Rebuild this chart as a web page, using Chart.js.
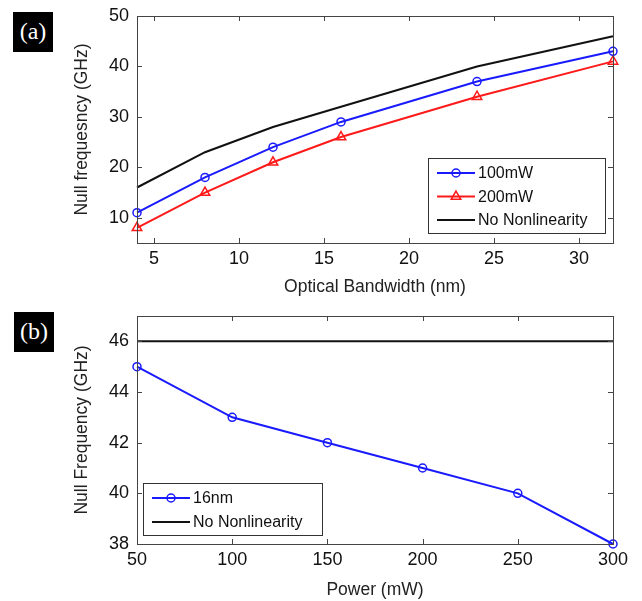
<!DOCTYPE html>
<html>
<head>
<meta charset="utf-8">
<script src="https://cdn.jsdelivr.net/npm/chart.js@4/dist/chart.umd.min.js"></script>
<style>
  html, body { margin: 0; padding: 0; background: #fff; }
  #wrap { position: relative; width: 642px; height: 601px; }
  .panel { position: absolute; left: 0; width: 642px; }
  .tag {
    position: absolute; background: #000; color: #fff;
    font: 24px "Liberation Serif", "DejaVu Serif", serif;
    width: 40px; height: 40px; line-height: 38px; text-align: center;
  }
</style>
</head>
<body>
<div id="wrap">
  <div class="panel" style="top:0;height:300px"><canvas id="chartA" width="642" height="300"></canvas></div>
  <div class="panel" style="top:300px;height:301px"><canvas id="chartB" width="642" height="301"></canvas></div>
  <div class="tag" style="left:13px;top:12px">(a)</div>
  <div class="tag" style="left:14px;top:312px">(b)</div>
</div>
<script>
// panel (a): null frequency vs optical bandwidth
const bandwidthNm = [4, 8, 12, 16, 24, 32];
const null100mW = [11, 18, 24, 29, 37, 43];
const null200mW = [8, 15, 21, 26, 34, 41];
const nullNoNonlinA = [16, 23, 28, 32, 40, 46];

// panel (b): null frequency vs power at 16nm
const powerMw = [50, 100, 150, 200, 250, 300];
const null16nm = [45, 43, 42, 41, 40, 38];
const nullNoNonlinB = [46, 46, 46, 46, 46, 46];

const FONT = '"Liberation Sans", Arial, sans-serif';
const BLUE = '#1a1aff';
const RED = '#ff1a1a';
const BLACK = '#111';

function pts(xs, ys) {
  return xs.map((x, i) => ({ x: x, y: ys[i] }));
}

// matlab style box with inward ticks on all four sides
const boxTicks = {
  id: 'boxTicks',
  afterDatasetsDraw(chart) {
    const { ctx, chartArea: a, scales } = chart;
    const len = 5;
    ctx.save();
    ctx.strokeStyle = '#444';
    ctx.lineWidth = 1;
    ctx.beginPath();
    scales.x.ticks.forEach(t => {
      const px = Math.round(scales.x.getPixelForValue(t.value)) + 0.5;
      ctx.moveTo(px, a.bottom); ctx.lineTo(px, a.bottom - len);
      ctx.moveTo(px, a.top); ctx.lineTo(px, a.top + len);
    });
    scales.y.ticks.forEach(t => {
      const py = Math.round(scales.y.getPixelForValue(t.value)) + 0.5;
      ctx.moveTo(a.left, py); ctx.lineTo(a.left + len, py);
      ctx.moveTo(a.right, py); ctx.lineTo(a.right - len, py);
    });
    ctx.stroke();
    ctx.strokeRect(Math.round(a.left) + 0.5, Math.round(a.top) + 0.5,
      Math.round(a.right - a.left), Math.round(a.bottom - a.top));
    ctx.restore();
  }
};

// legend box drawn inside the plot area
const boxLegend = {
  id: 'boxLegend',
  afterDraw(chart, args, opts) {
    const { ctx } = chart;
    const b = opts.box;
    ctx.save();
    ctx.fillStyle = '#fff';
    ctx.fillRect(b.x, b.y, b.w, b.h);
    ctx.strokeStyle = '#333';
    ctx.lineWidth = 1;
    ctx.strokeRect(b.x + 0.5, b.y + 0.5, b.w, b.h);
    ctx.font = '16px ' + FONT;
    ctx.textBaseline = 'middle';
    chart.data.datasets.forEach((ds, i) => {
      const y = b.y + opts.firstRow + i * opts.rowGap;
      const x0 = b.x + opts.lineX0, x1 = b.x + opts.lineX1;
      ctx.strokeStyle = ds.borderColor;
      ctx.lineWidth = ds.borderWidth;
      ctx.beginPath();
      ctx.moveTo(x0, y); ctx.lineTo(x1, y);
      ctx.stroke();
      if (ds.pointRadius > 0) {
        ctx.fillStyle = 'rgba(0,0,0,0)';
        ctx.lineWidth = ds.pointBorderWidth;
        Chart.helpers.drawPoint(ctx, {
          pointStyle: ds.pointStyle, radius: ds.pointRadius,
          borderWidth: ds.pointBorderWidth, rotation: 0
        }, (x0 + x1) / 2, y);
      }
      ctx.fillStyle = '#111';
      ctx.fillText(ds.label, x1 + 3, y + 1);
    });
    ctx.restore();
  }
};

function lineSet(label, data, color, style) {
  let r = 4;
  if (style === false) r = 0;
  if (style === 'triangle') r = 5.5;
  return {
    label: label, data: data, borderColor: color, backgroundColor: 'rgba(0,0,0,0)',
    borderWidth: 2, pointStyle: style || 'circle', pointRadius: r,
    pointBorderWidth: 1.5, pointBorderColor: color, pointBackgroundColor: 'rgba(0,0,0,0)',
    tension: 0, clip: false
  };
}

function makeOptions(cfg) {
  return {
    responsive: false,
    animation: false,
    events: [],
    layout: { padding: { left: 0, top: 16, right: 29, bottom: 0 } },
    plugins: {
      legend: { display: false },
      tooltip: { enabled: false },
      boxLegend: cfg.legend
    },
    scales: {
      x: {
        type: 'linear', min: cfg.xMin, max: cfg.xMax,
        afterFit: s => { s.height = cfg.xHeight; },
        grid: { display: false, drawTicks: false },
        border: { display: false },
        ticks: { stepSize: cfg.xStep, includeBounds: false, padding: 5, color: '#111', font: { family: FONT, size: 18 } },
        title: { display: true, text: cfg.xTitle, color: '#222', font: { family: FONT, size: 17.5 }, padding: { top: 0, bottom: cfg.xTitlePad } }
      },
      y: {
        type: 'linear', min: cfg.yMin, max: cfg.yMax,
        afterFit: s => { s.width = 137; s.paddingTop = 0; s.paddingBottom = 0; },
        grid: { display: false, drawTicks: false },
        border: { display: false },
        ticks: { stepSize: cfg.yStep, includeBounds: false, padding: 8, color: '#111', font: { family: FONT, size: 18 } },
        title: { display: true, text: cfg.yTitle, color: '#222', font: { family: FONT, size: 17.5 }, padding: { top: 72, bottom: 0 } }
      }
    }
  };
}

new Chart(document.getElementById('chartA'), {
  type: 'line',
  data: {
    datasets: [
      lineSet('100mW', pts(bandwidthNm, null100mW), BLUE, 'circle'),
      lineSet('200mW', pts(bandwidthNm, null200mW), RED, 'triangle'),
      lineSet('No Nonlinearity', pts(bandwidthNm, nullNoNonlinA), BLACK, false)
    ]
  },
  options: makeOptions({
    xMin: 4, xMax: 32, xStep: 5, yMin: 5, yMax: 50, yStep: 10,
    xHeight: 57, xTitlePad: 2,
    xTitle: 'Optical Bandwidth (nm)', yTitle: 'Null frequesncy (GHz)',
    legend: { box: { x: 428, y: 158, w: 177, h: 75 }, firstRow: 15, rowGap: 23.5, lineX0: 9, lineX1: 47 }
  }),
  plugins: [boxTicks, boxLegend]
});

new Chart(document.getElementById('chartB'), {
  type: 'line',
  data: {
    datasets: [
      lineSet('16nm', pts(powerMw, null16nm), BLUE, 'circle'),
      lineSet('No Nonlinearity', pts(powerMw, nullNoNonlinB), BLACK, false)
    ]
  },
  options: makeOptions({
    xMin: 50, xMax: 300, xStep: 50, yMin: 38, yMax: 47, yStep: 2,
    xHeight: 57, xTitlePad: 0,
    xTitle: 'Power (mW)', yTitle: 'Null Frequency (GHz)',
    legend: { box: { x: 143, y: 183, w: 179, h: 52 }, firstRow: 15, rowGap: 24, lineX0: 9, lineX1: 47 }
  }),
  plugins: [boxTicks, boxLegend]
});
</script>
</body>
</html>
